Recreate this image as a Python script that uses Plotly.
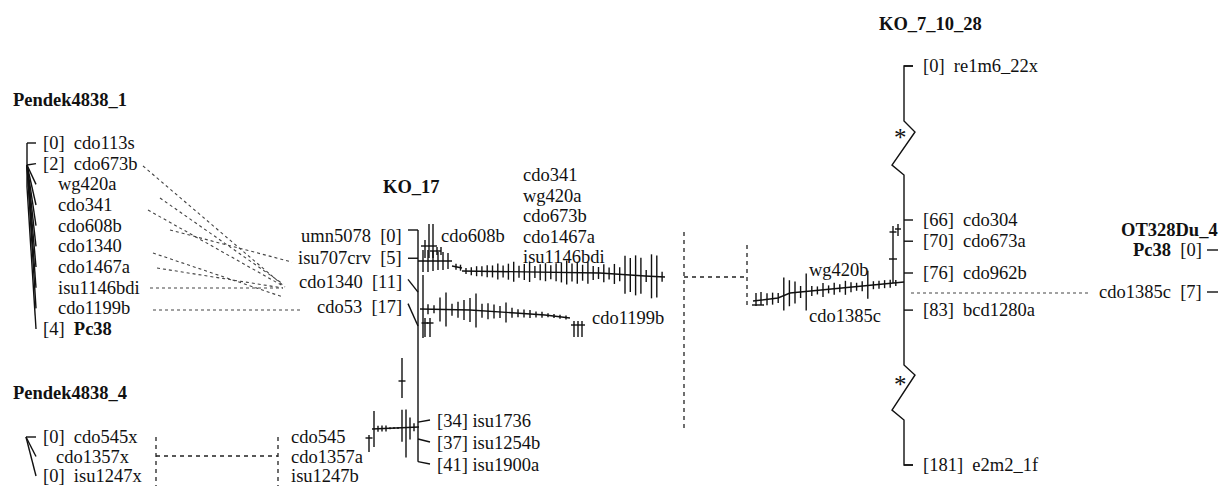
import plotly.graph_objects as go

# ---------------- DATA ----------------
p1_title = "Pendek4838_1"
p1_names = ["cdo113s", "cdo673b", "wg420a", "cdo341", "cdo608b", "cdo1340",
            "cdo1467a", "isu1146bdi", "cdo1199b", "Pc38"]
p1_cm = [0, 2, 2, 2, 2, 2, 2, 2, 2, 4]
p1_showpos = [1, 1, 0, 0, 0, 0, 0, 0, 0, 1]
p1_bold = [0, 0, 0, 0, 0, 0, 0, 0, 0, 1]

p4_title = "Pendek4838_4"
p4_names = ["cdo545x", "cdo1357x", "isu1247x"]
p4_cm = [0, 0, 0]
p4_showpos = [1, 0, 1]

k17_title = "KO_17"
k17_left_names = ["umn5078", "isu707crv", "cdo1340", "cdo53"]
k17_left_cm = [0, 5, 11, 17]
k17_right_names = ["isu1736", "isu1254b", "isu1900a"]
k17_right_cm = [34, 37, 41]
k17_cluster_names = ["cdo341", "wg420a", "cdo673b", "cdo1467a", "isu1146bdi"]
k17_upper_tag = "cdo608b"
k17_lower_tag = "cdo1199b"
k17_bottom_names = ["cdo545", "cdo1357a", "isu1247b"]

k7_title = "KO_7_10_28"
k7_names = ["re1m6_22x", "cdo304", "cdo673a", "cdo962b", "bcd1280a", "e2m2_1f"]
k7_cm = [0, 66, 70, 76, 83, 181]
k7_forest_names = ["wg420b", "cdo1385c"]

ot_title = "OT328Du_4"
ot_names = ["Pc38", "cdo1385c"]
ot_cm = [0, 7]
ot_bold = [1, 0]

links_p1_k17 = ["cdo673b", "wg420a", "cdo341", "cdo608b", "cdo1340",
                "cdo1467a", "isu1146bdi", "cdo1199b"]
link_k7_ot = "cdo1385c"

# forest tick half-lengths (up, down)
k17_upA = [11, 11, 10, 9, 9, 8]
k17_upB = [3, 3]
k17_upC = [3, 4, 5, 5, 6, 6, 8, 6, 8, 10, 6, 8, 10, 6, 8, 9, 7, 9, 10, 12,
           9, 11, 8, 11, 7, 6, 9, 6, 10, 7, 19, 17, 20, 18, 6, 22, 21, 5]
k17_low = [5, 4, 12, 17, 6, 8, 10, 12, 17, 7, 8, 7, 6, 10, 5, 4, 4, 4, 3, 3, 2, 2, 2, 2]
k17_bl_up = [18, 3, 3, 3, 1, 1, 1, 18, 18, 10, 4]
k17_bl_down = [18, 3, 3, 3, 1, 1, 1, 14, 30, 12, 4]
k7_up = [6, 6, 5, 18, 13, 11, 6, 18, 5, 4, 7, 4, 6, 4, 7, 5, 4, 5, 15, 4, 4, 4, 4, 3]
k7_down = [6, 6, 5, 15, 13, 11, 6, 19, 5, 4, 7, 4, 6, 4, 7, 5, 4, 5, 13, 4, 4, 4, 4, 3]

# ---------------- LAYOUT ----------------
W, H = 1219, 486
FONT = "Liberation Serif"
FS = 18.5
TXT = "#111111"
NB = "\u00a0"

sx, sy = [], []   # solid
dx, dy = [], []   # dotted
ex, ey = [], []   # dashed
ann = []


def seg(x0, y0, x1, y1, kind="s"):
    X, Y = {"s": (sx, sy), "d": (dx, dy), "e": (ex, ey)}[kind]
    X.extend([x0, x1, None])
    Y.extend([y0, y1, None])


def poly(pts, kind="s"):
    X, Y = {"s": (sx, sy), "d": (dx, dy), "e": (ex, ey)}[kind]
    for p in pts:
        X.append(p[0]); Y.append(p[1])
    X.append(None); Y.append(None)


def text(x, y, s, anchor="left", bold=False, size=FS):
    if bold:
        s = "<b>" + s + "</b>"
    ann.append(dict(x=x, y=y, xref="x", yref="y", text=s, showarrow=False,
                    xanchor=anchor, yanchor="middle", borderpad=0,
                    font=dict(family=FONT, size=size, color=TXT)))


def interp(x, knots):
    if x <= knots[0][0]:
        return knots[0][1]
    for (x0, y0), (x1, y1) in zip(knots[:-1], knots[1:]):
        if x0 <= x <= x1:
            return y0 + (y1 - y0) * (x - x0) / (x1 - x0)
    return knots[-1][1]


def forest(start, step, up, down, knots, draw_base=True):
    if draw_base:
        poly(knots)
    for i, (u, d) in enumerate(zip(up, down)):
        x = start + i * step
        yc = interp(x, knots)
        seg(x, yc - u, x, yc + d)


def cross(x, y0, y1, yc, hw=3.5):
    seg(x, y0, x, y1)
    seg(x - hw, yc, x + hw, yc)


# ---------- Pendek4838_1 ----------
text(12, 100, p1_title, bold=True)
P1X, P1Y0, P1K = 27, 143, 11.0
P1_LAB_TOP, P1_SP = 143, 20.67
seg(P1X, P1Y0, P1X, P1Y0 + P1K * max(p1_cm))
for i, (n, cm, sp, b) in enumerate(zip(p1_names, p1_cm, p1_showpos, p1_bold)):
    ly = P1_LAB_TOP + i * P1_SP
    seg(P1X, P1Y0 + P1K * cm, P1X + 9, ly)
    nm = "<b>" + n + "</b>" if b else n
    if sp:
        text(42, ly, "[%d]%s%s%s" % (cm, NB, NB, nm))
    else:
        text(57, ly, nm)

# ---------- Pendek4838_4 ----------
text(12, 393, p4_title, bold=True)
P4X, P4Y0 = 26, 437
for i, (n, cm, sp) in enumerate(zip(p4_names, p4_cm, p4_showpos)):
    ly = P4Y0 + i * 19.5
    seg(P4X, P4Y0, P4X + 10, ly)
    if sp:
        text(42, ly, "[%d]%s%s%s" % (cm, NB, NB, n))
    else:
        text(55, ly, n)

# dashed link Pendek4838_4 <-> KO_17 bottom
seg(156, 437, 156, 486, "e")
seg(156, 456, 278, 456, "e")
seg(278, 437, 278, 486, "e")

# ---------- KO_17 ----------
text(411, 187, k17_title, anchor="center", bold=True)
K17X, K17Y0, K17K = 418, 230, 5.65
seg(K17X, K17Y0, K17X, K17Y0 + K17K * max(k17_right_cm))
for i, (n, cm) in enumerate(zip(k17_left_names, k17_left_cm)):
    ly = 234 + i * 24.2
    seg(408, ly - 3 if i > 1 else K17Y0 + K17K * cm, K17X, K17Y0 + K17K * cm)
    text(403, ly + (2 if i == 0 else 0), "%s%s%s[%d]" % (n, NB, NB, cm), anchor="right")
for i, (n, cm) in enumerate(zip(k17_right_names, k17_right_cm)):
    ly = 421 + i * 22
    cy = K17Y0 + K17K * cm
    seg(K17X, cy, 430, ly - 1)
    text(436, ly, "[%d]%s%s" % (cm, NB, n))

# upper-top cluster near umn5078
seg(425, 240, 425, 258)
seg(429, 224, 429, 258)
seg(433, 224, 433, 258)
seg(421, 246, 437, 246)
seg(430, 251, 441, 251)
seg(437, 247, 437, 255)
seg(441, 247, 441, 255)

# upper forest
forest(423, 5, k17_upA, k17_upA, [(418, 261), (452, 261)])
forest(456, 4.5, k17_upB, k17_upB, [(452, 266), (462, 268)])
forest(466, 5.3, k17_upC, k17_upC, [(462, 271), (600, 273), (645, 276), (665, 277)])
text(440, 236, k17_upper_tag)
for i, n in enumerate(k17_cluster_names):
    text(522, 175 + i * 20.6, n)

# lower forest
forest(428, 6, k17_low, k17_low, [(420, 309), (470, 310), (545, 315), (570, 318)])
seg(423, 275, 423, 338)
cross(425, 318, 337, 323)
cross(430, 318, 337, 323)
for xx in (574, 578, 582):
    seg(xx, 321, xx, 337)
seg(571, 325, 585, 325)
text(591, 318, k17_lower_tag)

# bottom-left forest
forest(374, 4, k17_bl_up, k17_bl_down, [(372, 429), (419, 427)])
cross(402, 358, 398, 381)
cross(369, 435, 452, 438)
for i, n in enumerate(k17_bottom_names):
    text(290, 437 + i * 19.5, n)

# ---------- links Pendek4838_1 -> KO_17 (dotted) ----------
link_geom = {
    "cdo673b": (143, 285, 287), "wg420a": (160, 283, 284), "cdo341": (148, 283, 286),
    "cdo608b": (170, 292, 262), "cdo1340": (153, 283, 297), "cdo1467a": (157, 283, 288),
    "isu1146bdi": (150, 283, 288), "cdo1199b": (153, 300, 310),
}
link_sy = {"cdo673b": 166, "wg420a": 198, "cdo341": 210, "cdo608b": 230,
           "cdo1340": 253, "cdo1467a": 268, "isu1146bdi": 288, "cdo1199b": 310}
for n in links_p1_k17:
    x0, x1, y1 = link_geom[n]
    seg(x0, link_sy[n], x1, y1, "d")

# dashed link KO_17 <-> KO_7_10_28
seg(684, 232, 684, 432, "e")
seg(684, 277, 747, 277, "e")
seg(747, 245, 747, 308, "e")

# ---------- KO_7_10_28 ----------
text(930, 24, k7_title, anchor="center", bold=True)
K7X = 904


def k7y(cm):
    if cm == 0:
        return 66
    if cm > 150:
        return 465
    return 220 + (cm - 66) * 5.3


poly([(K7X + 9, 66), (K7X, 66), (K7X, 121), (915, 132), (892, 165), (K7X, 175),
      (K7X, 365), (915, 375), (892, 410), (K7X, 420), (K7X, 465), (K7X + 9, 465)])
text(900, 137, "*", anchor="center", size=25)
text(900, 384, "*", anchor="center", size=25)
for n, cm in zip(k7_names, k7_cm):
    y = k7y(cm)
    seg(K7X, y, K7X + 9, y)
    text(922, y, "[%d]%s%s%s" % (cm, NB, NB, n))

# K7 forest
seg(752, 305, 764, 305)
seg(756, 293, 756, 306)
seg(761, 292, 761, 305)
forest(767, 5.6, k7_up, k7_down, [(753, 301), (778, 298), (790, 293), (897, 283), (904, 282)])
cross(893, 226, 283, 232)
seg(889, 259, 897, 259)
cross(898, 224, 236, 229, 3)
text(808, 270, k7_forest_names[0])
text(808, 316, k7_forest_names[1])

# dotted link KO_7_10_28 -> OT328Du_4
seg(911, 293, 1088, 293, "d")

# ---------- OT328Du_4 ----------
text(1219, 230, ot_title, anchor="right", bold=True)
for i, (n, cm, b) in enumerate(zip(ot_names, ot_cm, ot_bold)):
    y = 250 + cm * 6
    nm = "<b>" + n + "</b>" if b else n
    text(1203, y, "%s%s%s[%d]" % (nm, NB, NB, cm), anchor="right")
    seg(1207, y, 1218, y)

# ---------------- FIGURE ----------------
fig = go.Figure()
fig.add_trace(go.Scatter(x=sx, y=sy, mode="lines", hoverinfo="skip",
                         line=dict(color="#111111", width=1.4)))
fig.add_trace(go.Scatter(x=dx, y=dy, mode="lines", hoverinfo="skip",
                         line=dict(color="#444444", width=1.1, dash="dot")))
fig.add_trace(go.Scatter(x=ex, y=ey, mode="lines", hoverinfo="skip",
                         line=dict(color="#222222", width=1.3, dash="4px,4px")))
fig.update_layout(
    width=W, height=H, margin=dict(l=0, r=0, t=0, b=0),
    paper_bgcolor="white", plot_bgcolor="white", showlegend=False,
    annotations=ann,
    xaxis=dict(range=[0, W], visible=False, fixedrange=True),
    yaxis=dict(range=[H, 0], visible=False, fixedrange=True),
)
fig.write_html(
    "out.html",
    config={"displayModeBar": False},
    post_script=("document.documentElement.style.margin='0';"
                 "document.body.style.margin='0';"
                 "document.documentElement.style.overflow='hidden';"
                 "document.body.style.overflow='hidden';"),
)
